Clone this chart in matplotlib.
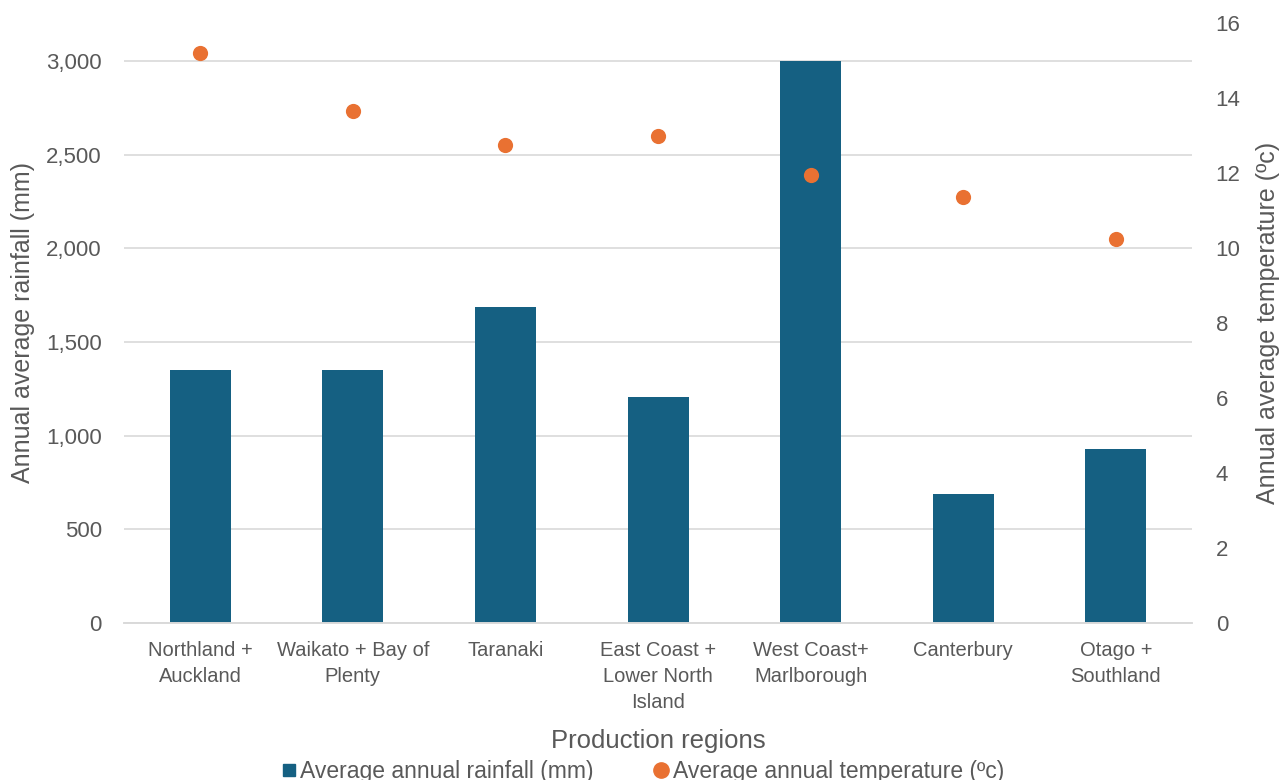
import matplotlib.pyplot as plt
from matplotlib.ticker import FuncFormatter, MultipleLocator
from matplotlib.lines import Line2D

regions = ['Northland +\nAuckland', 'Waikato + Bay of\nPlenty', 'Taranaki',
           'East Coast +\nLower North\nIsland', 'West Coast+\nMarlborough',
           'Canterbury', 'Otago +\nSouthland']
rainfall = [1350, 1350, 1687, 1206, 3000, 689, 929]
temperature = [15.2, 13.65, 12.75, 13.0, 11.95, 11.37, 10.25]

blue = '#156082'
orange = '#E97132'
grey = '#595959'

plt.rcParams['font.family'] = ['Liberation Sans', 'DejaVu Sans']

fig = plt.figure(figsize=(12.86, 7.8), dpi=100)
ax = fig.add_axes([0.0964, 0.2013, 0.8306, 0.7692])
ax2 = ax.twinx()

x = range(len(regions))
ax.bar(x, rainfall, width=0.4, color=blue, zorder=2)
ax2.scatter(x, temperature, s=120, color=orange, zorder=3, linewidths=0)

ax.set_xlim(-0.5, len(regions) - 0.5)
ax.set_ylim(0, 3203)
ax2.set_ylim(0, 16)
ax.set_yticks(range(0, 3001, 500))
ax.yaxis.set_major_formatter(FuncFormatter(lambda v, p: f'{int(v):,}'))
ax2.yaxis.set_major_locator(MultipleLocator(2))

ax.grid(axis='y', color='#d9d9d9', linewidth=1.2, zorder=0)
ax.set_axisbelow(True)
for a in (ax, ax2):
    for s in ('top', 'left', 'right'):
        a.spines[s].set_visible(False)
    a.spines['bottom'].set_color('#d9d9d9')
    a.spines['bottom'].set_linewidth(1.2)
    a.tick_params(length=0, colors=grey, labelsize=16)

ax.set_xticks(list(x))
ax.set_xticklabels(regions, fontsize=14.5, linespacing=1.48)
ax.tick_params(axis='x', pad=13)
ax.tick_params(axis='y', pad=16)
ax2.tick_params(axis='y', pad=17)

ax.set_ylabel('Annual average rainfall (mm)', fontsize=18, color=grey, labelpad=8)
ax2.set_ylabel('Annual average temperature (ºc)', fontsize=18, color=grey, labelpad=11)
ax.set_xlabel('Production regions', fontsize=18.5, color=grey, labelpad=12)

handles = [Line2D([], [], marker='s', linestyle='none', color=blue, markersize=9,
                  label='Average annual rainfall (mm)'),
           Line2D([], [], marker='o', linestyle='none', color=orange, markersize=11,
                  label='Average annual temperature (ºc)')]
fig.legend(handles=handles, loc='center', bbox_to_anchor=(0.5, 0.0115),
           ncol=2, frameon=False, fontsize=16.5, labelcolor=grey,
           handlelength=0.6, handletextpad=0.2, columnspacing=2.65,
           borderaxespad=0, borderpad=0)

fig.savefig('out.png', dpi=100)
